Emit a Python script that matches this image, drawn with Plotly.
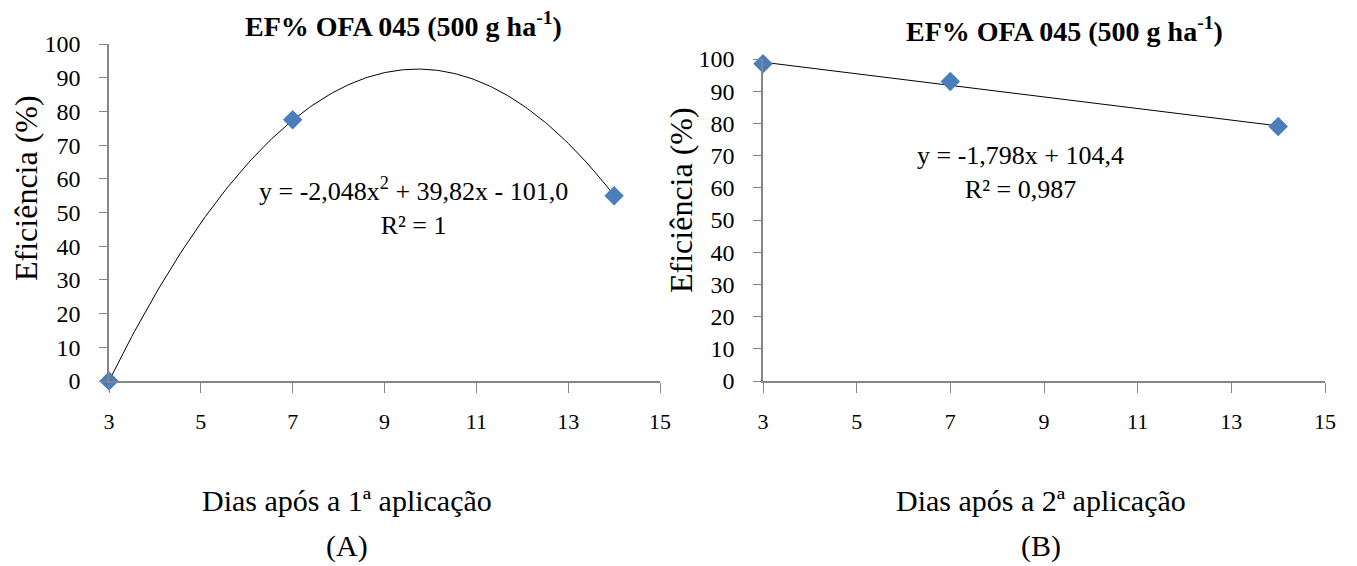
import numpy as np
import plotly.graph_objects as go

# Data
dias = [3, 7, 14]
ef_a = [0.0, 77.5, 55.0]
ef_b = [98.5, 93.0, 79.0]
coef_a = [-2.048, 39.82, -101.0]   # quadratic trendline
coef_b = [-1.798, 104.4]           # linear trendline
x_ticks = [3, 5, 7, 9, 11, 13, 15]
y_ticks = [0, 10, 20, 30, 40, 50, 60, 70, 80, 90, 100]

title_txt = "<b>EF% OFA 045 (500 g ha<sup>-1</sup>)</b>"
eq_a = "y = -2,048x<sup>2</sup> + 39,82x - 101,0<br>R² = 1"
eq_b = "y = -1,798x + 104,4<br>R² = 0,987"

FONT = "Times New Roman"
BLUE = "#4A7EBB"
GRAY = "#868686"

xa = np.linspace(3, 14, 200)
ya = np.polyval(coef_a, xa)
xb = np.array([3, 14])
yb = np.polyval(coef_b, xb)

W, H = 1357, 566
OFF = 8  # page body margin
def px(x):
    return (x - OFF) / W
def py(y):
    return 1 - (y - OFF) / H

fig = go.Figure()
fig.add_trace(go.Scatter(x=xa, y=ya, mode="lines", line=dict(color="black", width=1),
                         xaxis="x", yaxis="y", showlegend=False, hoverinfo="skip"))
fig.add_trace(go.Scatter(x=dias, y=ef_a, mode="markers",
                         marker=dict(symbol="diamond", size=15, color=BLUE),
                         xaxis="x", yaxis="y", showlegend=False, cliponaxis=False))
fig.add_trace(go.Scatter(x=xb, y=yb, mode="lines", line=dict(color="black", width=1),
                         xaxis="x2", yaxis="y2", showlegend=False, hoverinfo="skip"))
fig.add_trace(go.Scatter(x=dias, y=ef_b, mode="markers",
                         marker=dict(symbol="diamond", size=15, color=BLUE),
                         xaxis="x2", yaxis="y2", showlegend=False, cliponaxis=False))

xcommon = dict(range=[3, 15], tickvals=x_ticks, showline=True, linecolor=GRAY, linewidth=1.5,
               ticks="outside", ticklen=10, tickcolor=GRAY, showgrid=False, zeroline=False,
               automargin=False,
               tickfont=dict(family=FONT, size=22, color="black"), ticklabelstandoff=10)
ycommon = dict(range=[0, 100], tickvals=y_ticks, showline=True, linecolor=GRAY, linewidth=1.5,
               ticks="outside", ticklen=8, tickcolor=GRAY, showgrid=False, zeroline=False,
               automargin=False,
               tickfont=dict(family=FONT, size=24, color="black"), ticklabelstandoff=14)

fig.update_layout(
    width=W, height=H,
    margin=dict(l=0, r=0, t=0, b=0),
    paper_bgcolor="white", plot_bgcolor="white",
    font=dict(family=FONT, color="black"),
    xaxis=dict(domain=[px(109), px(660)], anchor="y", **xcommon),
    yaxis=dict(domain=[py(381), py(44)], anchor="x", **ycommon),
    xaxis2=dict(domain=[px(763), px(1325)], anchor="y2", **xcommon),
    yaxis2=dict(domain=[py(381), py(59)], anchor="x2", **ycommon),
)

anns = [
    dict(x=px(403), y=py(25), text=title_txt, font=dict(size=28)),
    dict(x=px(1064), y=py(29), text=title_txt, font=dict(size=28)),
    dict(x=px(413), y=py(206), text=eq_a, font=dict(size=26)),
    dict(x=px(1020), y=py(172), text=eq_b, font=dict(size=26)),
    dict(x=px(26), y=py(188), text="Eficiência (%)", textangle=-90, font=dict(size=32)),
    dict(x=px(681), y=py(200), text="Eficiência (%)", textangle=-90, font=dict(size=32)),
    dict(x=px(347), y=py(500), text="Dias após a 1ª aplicação", font=dict(size=30)),
    dict(x=px(347), y=py(546), text="(A)", font=dict(size=30)),
    dict(x=px(1041), y=py(500), text="Dias após a 2ª aplicação", font=dict(size=30)),
    dict(x=px(1041), y=py(546), text="(B)", font=dict(size=30)),
]
for a in anns:
    a.update(xref="paper", yref="paper", showarrow=False, xanchor="center", yanchor="middle")
    a["font"].update(family=FONT, color="black")
    fig.add_annotation(**a)

fig.write_html("out.html")
